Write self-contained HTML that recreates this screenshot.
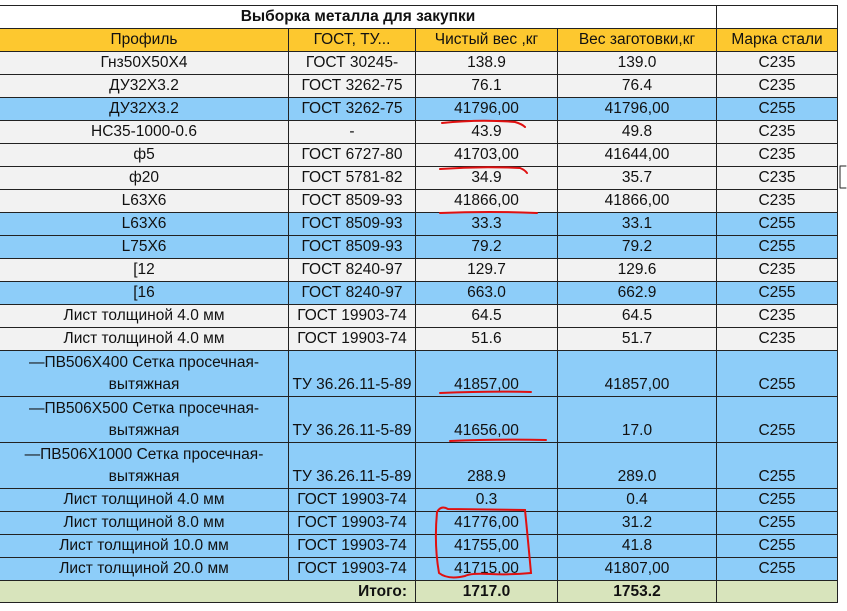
<!DOCTYPE html>
<html><head><meta charset="utf-8"><style>
body{margin:0;width:847px;height:611px;background:#fff;overflow:hidden;position:relative;font-family:"Liberation Sans Narrow","Liberation Sans","DejaVu Sans",sans-serif;}
table{position:absolute;left:-1px;top:5px;border-collapse:collapse;table-layout:fixed;font-size:15.5px;color:#111;}
td{border:1px solid #222;text-align:center;padding:0;line-height:22px;height:22px;white-space:nowrap;overflow:hidden;vertical-align:bottom;}
tr.w td{background:#f2f2f2;}
tr.b td{background:#8dcdf9;}
tr.h td{background:#fdc82f;}
tr.t td{background:#d8e4bc;font-weight:bold;height:21px;line-height:21px;}
tr.tt td{background:#fff;font-weight:bold;}
tr.tall td{height:45px;}
.two{line-height:22px;white-space:normal;}
</style></head><body>
<table>
<colgroup><col style="width:289px"><col style="width:127px"><col style="width:142px"><col style="width:159px"><col style="width:121px"></colgroup>
<tr class="tt"><td colspan="4">Выборка металла для закупки</td><td></td></tr>
<tr class="h"><td>Профиль</td><td>ГОСТ, ТУ...</td><td>Чистый вес ,кг</td><td>Вес заготовки,кг</td><td>Марка стали</td></tr>
<tr class="w"><td>Гнз50Х50Х4</td><td>ГОСТ 30245-</td><td>138.9</td><td>139.0</td><td>С235</td></tr>
<tr class="w"><td>ДУ32Х3.2</td><td>ГОСТ 3262-75</td><td>76.1</td><td>76.4</td><td>С235</td></tr>
<tr class="b"><td>ДУ32Х3.2</td><td>ГОСТ 3262-75</td><td>41796,00</td><td>41796,00</td><td>С255</td></tr>
<tr class="w"><td>НС35-1000-0.6</td><td>-</td><td>43.9</td><td>49.8</td><td>С235</td></tr>
<tr class="w"><td>ф5</td><td>ГОСТ 6727-80</td><td>41703,00</td><td>41644,00</td><td>С235</td></tr>
<tr class="w"><td>ф20</td><td>ГОСТ 5781-82</td><td>34.9</td><td>35.7</td><td>С235</td></tr>
<tr class="w"><td>L63Х6</td><td>ГОСТ 8509-93</td><td>41866,00</td><td>41866,00</td><td>С235</td></tr>
<tr class="b"><td>L63Х6</td><td>ГОСТ 8509-93</td><td>33.3</td><td>33.1</td><td>С255</td></tr>
<tr class="b"><td>L75Х6</td><td>ГОСТ 8509-93</td><td>79.2</td><td>79.2</td><td>С255</td></tr>
<tr class="w"><td>[12</td><td>ГОСТ 8240-97</td><td>129.7</td><td>129.6</td><td>С235</td></tr>
<tr class="b"><td>[16</td><td>ГОСТ 8240-97</td><td>663.0</td><td>662.9</td><td>С255</td></tr>
<tr class="w"><td>Лист толщиной 4.0 мм</td><td>ГОСТ 19903-74</td><td>64.5</td><td>64.5</td><td>С235</td></tr>
<tr class="w"><td>Лист толщиной 4.0 мм</td><td>ГОСТ 19903-74</td><td>51.6</td><td>51.7</td><td>С235</td></tr>
<tr class="b tall"><td class="two">—ПВ506Х400 Сетка просечная-<br>вытяжная</td><td>ТУ 36.26.11-5-89</td><td>41857,00</td><td>41857,00</td><td>С255</td></tr>
<tr class="b tall"><td class="two">—ПВ506Х500 Сетка просечная-<br>вытяжная</td><td>ТУ 36.26.11-5-89</td><td>41656,00</td><td>17.0</td><td>С255</td></tr>
<tr class="b tall"><td class="two">—ПВ506Х1000 Сетка просечная-<br>вытяжная</td><td>ТУ 36.26.11-5-89</td><td>288.9</td><td>289.0</td><td>С255</td></tr>
<tr class="b"><td>Лист толщиной 4.0 мм</td><td>ГОСТ 19903-74</td><td>0.3</td><td>0.4</td><td>С255</td></tr>
<tr class="b"><td>Лист толщиной 8.0 мм</td><td>ГОСТ 19903-74</td><td>41776,00</td><td>31.2</td><td>С255</td></tr>
<tr class="b"><td>Лист толщиной 10.0 мм</td><td>ГОСТ 19903-74</td><td>41755,00</td><td>41.8</td><td>С255</td></tr>
<tr class="b"><td>Лист толщиной 20.0 мм</td><td>ГОСТ 19903-74</td><td>41715,00</td><td>41807,00</td><td>С255</td></tr>
<tr class="t"><td colspan="2" style="text-align:right;padding-right:8px">Итого:</td><td>1717.0</td><td>1753.2</td><td></td></tr>
</table>
<svg width="847" height="611" style="position:absolute;left:0;top:0" fill="none" stroke="#e01010" stroke-width="2" stroke-linecap="round">
<path d="M442 123 Q480 119 515 122 Q522 124 525 127"/>
<path d="M440 169 Q480 166 520 168 Q525 170 527 173"/>
<path d="M440 213 Q490 211 537 213"/>
<path d="M440 393 Q490 391 531 392"/>
<path d="M450 441 Q500 439 546 440"/>
<path d="M437 512 Q441 505 448 509 L525 510 Q528 540 531 573 Q510 575 490 574 Q470 573 465 576 Q448 580 439 573 Q434 545 437 512"/>
<path d="M840 166 L846 166 M840 166 L840 188 M840 188 L846 188" stroke="#222" stroke-width="1"/>
</svg>
</body></html>
